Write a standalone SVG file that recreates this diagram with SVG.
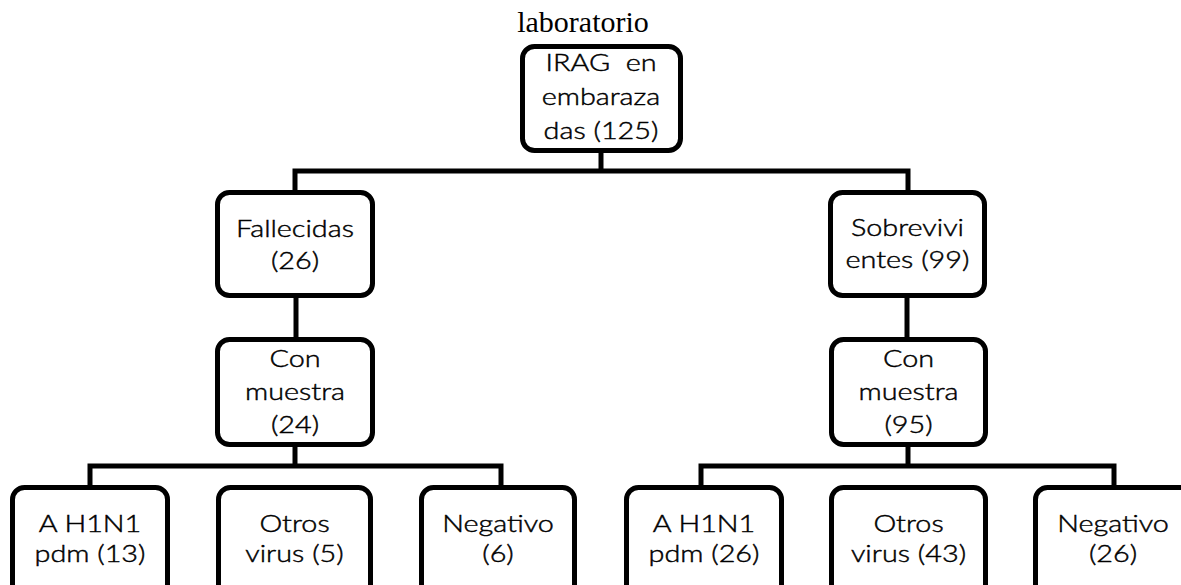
<svg xmlns="http://www.w3.org/2000/svg" width="1181" height="585" viewBox="0 0 1181 585">
<style>
.box{fill:#fff;stroke:#000;stroke-width:5}
.t{font-family:Lato,"Open Sans",sans-serif;font-size:24px;font-weight:300;fill:#000;stroke:#000;stroke-width:0.45;text-anchor:middle;white-space:pre}
.title{font-family:"Liberation Serif",serif;font-size:30px;fill:#000;text-anchor:middle}
.c{fill:none;stroke:#000;stroke-width:5;stroke-linejoin:miter}
</style>
<rect width="1181" height="585" fill="#fff"/>
<text class="title" x="583" y="32">laboratorio</text>
<g id="connectors">
<path class="c" d="M601,150 V171"/>
<path class="c" d="M295,192 V171 H908 V194"/>
<path class="c" d="M296,296 V339"/>
<path class="c" d="M907,296 V339"/>
<path class="c" d="M295,445 V466"/>
<path class="c" d="M90,487 V466 H501 V487"/>
<path class="c" d="M908,445 V466"/>
<path class="c" d="M701,487 V466 H1114 V487"/>
</g>
<g id="root">
<rect class="box" x="522.5" y="46.5" width="158" height="104" rx="12"/>
<text class="t" transform="translate(601,0) scale(1.2,1)"><tspan x="0" y="71">IRAG  en</tspan><tspan x="0" y="105">embaraza</tspan><tspan x="0" y="139">das (125)</tspan></text>
</g>
<g id="fallecidas">
<rect class="box" x="217.5" y="192.5" width="155" height="103" rx="12"/>
<text class="t" transform="translate(295,0) scale(1.2,1)"><tspan x="0" y="237">Fallecidas</tspan><tspan x="0" y="269">(26)</tspan></text>
</g>
<g id="sobrevivientes">
<rect class="box" x="830.5" y="192.5" width="154" height="103" rx="12"/>
<text class="t" transform="translate(907.5,0) scale(1.2,1)"><tspan x="0" y="236">Sobrevivi</tspan><tspan x="0" y="268">entes (99)</tspan></text>
</g>
<g id="con-muestra-24">
<rect class="box" x="217.5" y="339.5" width="155" height="105" rx="12"/>
<text class="t" transform="translate(295,0) scale(1.2,1)"><tspan x="0" y="367">Con</tspan><tspan x="0" y="400">muestra</tspan><tspan x="0" y="433">(24)</tspan></text>
</g>
<g id="con-muestra-95">
<rect class="box" x="831.5" y="339.5" width="154" height="105" rx="12"/>
<text class="t" transform="translate(908.5,0) scale(1.2,1)"><tspan x="0" y="367">Con</tspan><tspan x="0" y="400">muestra</tspan><tspan x="0" y="433">(95)</tspan></text>
</g>
<g id="ah1n1-13">
<rect class="box" x="12.5" y="487.5" width="155" height="130" rx="12"/>
<text class="t" transform="translate(90,0) scale(1.2,1)"><tspan x="0" y="532">A H1N1</tspan><tspan x="0" y="562">pdm (13)</tspan></text>
</g>
<g id="otros-5">
<rect class="box" x="218.5" y="487.5" width="152" height="130" rx="12"/>
<text class="t" transform="translate(294.5,0) scale(1.2,1)"><tspan x="0" y="532">Otros</tspan><tspan x="0" y="562">virus (5)</tspan></text>
</g>
<g id="negativo-6">
<rect class="box" x="421.5" y="487.5" width="153" height="130" rx="12"/>
<text class="t" transform="translate(498,0) scale(1.2,1)"><tspan x="0" y="532">Negativo</tspan><tspan x="0" y="562">(6)</tspan></text>
</g>
<g id="ah1n1-26">
<rect class="box" x="626.5" y="487.5" width="155" height="130" rx="12"/>
<text class="t" transform="translate(704,0) scale(1.2,1)"><tspan x="0" y="532">A H1N1</tspan><tspan x="0" y="562">pdm (26)</tspan></text>
</g>
<g id="otros-43">
<rect class="box" x="831.5" y="487.5" width="154" height="130" rx="12"/>
<text class="t" transform="translate(908.5,0) scale(1.2,1)"><tspan x="0" y="532">Otros</tspan><tspan x="0" y="562">virus (43)</tspan></text>
</g>
<g id="negativo-26">
<rect class="box" x="1035.5" y="487.5" width="158" height="130" rx="12"/>
<text class="t" transform="translate(1113,0) scale(1.2,1)"><tspan x="0" y="532">Negativo</tspan><tspan x="0" y="562">(26)</tspan></text>
</g>
</svg>
